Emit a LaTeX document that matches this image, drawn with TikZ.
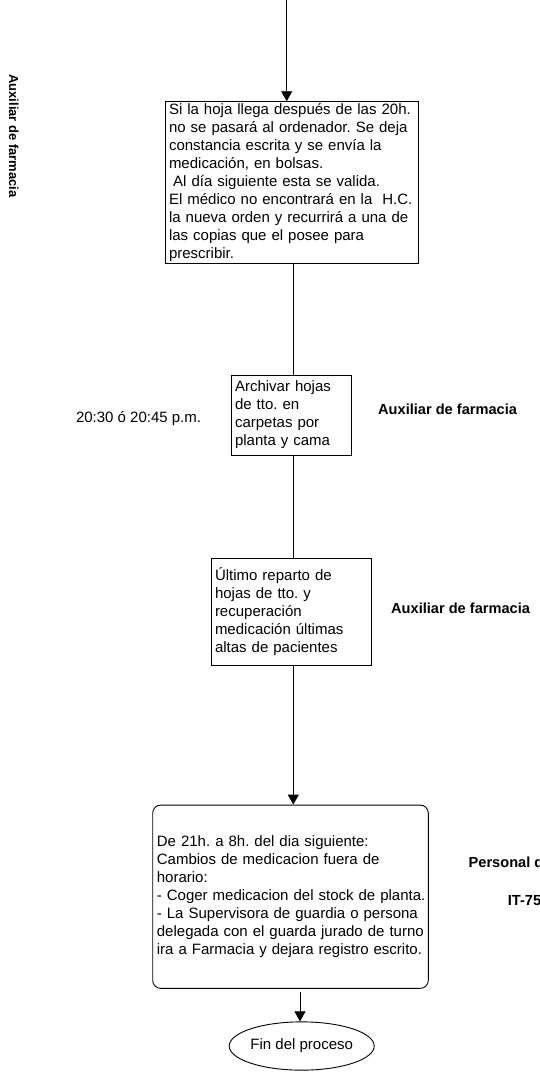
\documentclass[tikz,border=0pt]{standalone}
\usepackage{fontspec}
\setmainfont{Liberation Sans}
\usetikzlibrary{arrows.meta,shapes.geometric}
\frenchspacing
\tikzset{
  stepbox/.style={draw=black, line width=0.9pt, rectangle, inner xsep=3.3pt, inner ysep=0pt,
    align=left, font=\fontsize{15}{18}\selectfont\frenchspacing},
  roundbox/.style={stepbox, rounded corners=8pt, inner xsep=4.2pt},
  endell/.style={draw=black, line width=0.9pt, ellipse, inner sep=0pt,
    minimum width=140pt, minimum height=48.3pt, font=\fontsize{15}{18}\selectfont},
  lbl/.style={inner sep=0pt, anchor=west, font=\fontsize{15}{18}\selectfont\frenchspacing},
  rolelbl/.style={lbl, font=\fontsize{14.6}{18}\selectfont\bfseries},
  conn/.style={draw=black, line width=0.9pt},
  arr/.style={conn, -{Triangle[length=10pt,width=11pt]}}
}
\begin{document}
\begin{tikzpicture}[x=1pt,y=-1pt]
\useasboundingbox (0,0) rectangle (540,1081);
\clip (0,0) rectangle (540,1081);

\node[inner sep=0pt, rotate=-90, font=\fontsize{13}{15}\selectfont\bfseries] (side) at (13.8,136) {Auxiliar de farmacia};

\node[stepbox, minimum width=253pt, minimum height=161.6pt, text width=246.4pt] (b1) at (292.2,182.5)
{Si la hoja llega después de las 20h.\\
no se pasará al ordenador. Se deja\\
constancia escrita y se envía la\\
medicación, en bolsas.\\
\hspace*{4.2pt}Al día siguiente esta se valida.\\
El médico no encontrará en la\ \ H.C.\\
la nueva orden y recurrirá a una de\\
las copias que el posee para\\
prescribir.};

\node[stepbox, minimum width=120pt, minimum height=80pt, text width=113.4pt] (b2) at (291.7,415)
{Archivar hojas\\
de tto. en\\
carpetas por\\
planta y cama};

\node[stepbox, minimum width=160pt, minimum height=106.7pt, text width=153.4pt] (b3) at (291.7,611.7)
{Último reparto de\\
hojas de tto. y\\
recuperación\\
medicación últimas\\
altas de pacientes};

\node[roundbox, minimum width=275.6pt, minimum height=183.3pt, text width=267.2pt] (b4) at (290.5,896.7)
{De 21h. a 8h. del dia siguiente:\\
Cambios de medicacion fuera de\\
horario:\\
\mbox{- Coger medicacion del stock de planta.}\\
\mbox{- La Supervisora de guardia o persona}\\
\mbox{delegada con el guarda jurado de turno}\\
\mbox{ira a Farmacia y dejara registro escrito.}};

\node[endell] (fin) at (301.7,1046) {Fin del proceso};

\node[lbl] (time) at (75.8,418.3) {20:30 ó 20:45 p.m.};
\node[rolelbl] (r1) at (378,409) {Auxiliar de farmacia};
\node[rolelbl] (r2) at (391,608.3) {Auxiliar de farmacia};
\node[rolelbl] (r3) at (468.5,862.7) {Personal de};
\node[rolelbl] (r4) at (507.7,900.5) {IT-75};

\coordinate (top) at (286.7,0);
\coordinate (spine) at (293.3,0);
\coordinate (endx) at (300,0);

\draw[arr] (top) -- (top |- b1.north);
\draw[conn] (b1.south -| spine) -- (b2.north -| spine);
\draw[conn] (b2.south -| spine) -- (b3.north -| spine);
\draw[arr] (b3.south -| spine) -- (b4.north -| spine);
\draw[arr] ([yshift=-3.4pt]b4.south -| endx) -- (fin.north -| endx);
\end{tikzpicture}
\end{document}
